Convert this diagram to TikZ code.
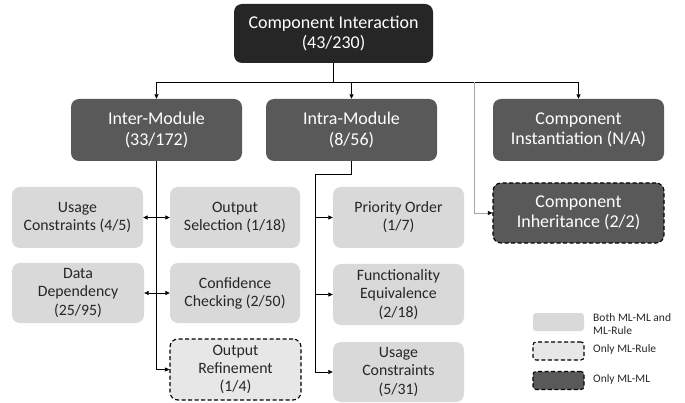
\documentclass[tikz,border=0pt]{standalone}
\usepackage{fontspec}
\setmainfont{Carlito}
\usetikzlibrary{arrows.meta}
\definecolor{topc}{HTML}{262626}
\definecolor{midc}{HTML}{595959}
\definecolor{lightc}{HTML}{D9D9D9}
\definecolor{paleC}{HTML}{E7E7E7}
\definecolor{txtc}{HTML}{262626}
\tikzset{
  box/.style={rectangle, rounded corners=8pt, align=center, inner sep=2pt},
  topbox/.style={box, fill=topc, text=white, font=\fontsize{18}{20.5}\selectfont},
  midbox/.style={box, fill=midc, text=white, font=\fontsize{18}{20.5}\selectfont},
  leafbox/.style={box, fill=lightc, text=txtc, font=\fontsize{15.8}{18.2}\selectfont},
  dashbox/.style={dash pattern=on 4pt off 2.5pt, draw=black, line width=1.1pt},
  conn/.style={draw=black, line width=0.7pt},
  arr/.style={-{Triangle[length=4.5pt,width=4pt]}},
  darr/.style={{Triangle[length=4.5pt,width=4pt]}-{Triangle[length=4.5pt,width=4pt]}},
  legtxt/.style={anchor=west, align=left, text=txtc, font=\fontsize{11.5}{12.2}\selectfont, inner sep=0pt}
}
\begin{document}
\begin{tikzpicture}[x=1pt,y=-1pt]
\useasboundingbox (0,0) rectangle (685,403);
% top
\node[topbox, minimum width=199pt, minimum height=59pt] (top) at (333.5,33.5) {Component Interaction\\(43/230)};
% middle
\node[midbox, minimum width=171pt, minimum height=62pt] (inter) at (156.5,130) {Inter-Module\\(33/172)};
\node[midbox, minimum width=171pt, minimum height=62pt] (intra) at (351.5,130) {Intra-Module\\(8/56)};
\node[midbox, minimum width=171pt, minimum height=62pt] (inst) at (578.5,130) {Component\\Instantiation (N/A)};
\node[midbox, dashbox, minimum width=171pt, minimum height=60pt] (inh) at (578.5,213) {Component\\Inheritance (2/2)};
% leaves
\node[leafbox, minimum width=131pt, minimum height=61pt] (uca) at (77.5,217.5) {Usage\\Constraints (4/5)};
\node[leafbox, minimum width=132pt, minimum height=60pt] (dd) at (78,293) {Data\\Dependency\\(25/95)};
\node[leafbox, minimum width=130pt, minimum height=61pt] (os) at (235,217.5) {Output\\Selection (1/18)};
\node[leafbox, minimum width=130pt, minimum height=60pt] (cc) at (235,293) {Confidence\\Checking (2/50)};
\node[leafbox, fill=paleC, dashbox, minimum width=131pt, minimum height=61pt] (orf) at (235.5,369.5) {Output\\Refinement\\(1/4)};
\node[leafbox, minimum width=131pt, minimum height=61pt] (po) at (398.5,217.5) {Priority Order\\(1/7)};
\node[leafbox, minimum width=131pt, minimum height=61pt] (fe) at (398.5,294.5) {Functionality\\Equivalence\\(2/18)};
\node[leafbox, minimum width=131pt, minimum height=60pt] (ucb) at (398.5,372) {Usage\\Constraints\\(5/31)};
% connectors from top
\coordinate (hb) at (333.5,82);
\draw[conn] (top.south) -- (hb);
\draw[conn, arr] (hb) -| (inter.north);
\draw[conn, arr] (hb) -| (inst.north);
\draw[conn, arr] (intra.north |- hb) -- (intra.north);
% gray line to inheritance
\coordinate (gl) at (474,82);
\draw[draw=gray!70, line width=0.6pt, -{Triangle[length=4.5pt,width=4pt,color=black]}] (gl) |- (inh.west);
% inter-module spine
\draw[draw=black, line width=1.2pt] (inter.south) -- (inter.south |- orf.west);
\draw[conn, arr] (inter.south |- orf.west) -- (orf.west);
\draw[conn, darr] (uca.east) -- (os.west);
\draw[conn, darr] (dd.east) -- (cc.west);
% intra-module spine
\coordinate (ib) at (315,174);
\draw[conn] (intra.south) |- (ib);
\draw[conn, arr] (ib) |- (ucb.west);
\draw[conn, arr] (ib |- po.west) -- (po.west);
\draw[conn, arr] (ib |- fe.west) -- (fe.west);
% legend
\node[box, rounded corners=3pt, fill=lightc, minimum width=51pt, minimum height=18pt] (l1) at (558.5,322) {};
\node[box, rounded corners=3pt, fill=paleC, dashbox, minimum width=51pt, minimum height=18pt] (l2) at (558.5,351) {};
\node[box, rounded corners=3pt, fill=midc, dashbox, minimum width=51pt, minimum height=18pt] (l3) at (558.5,380.5) {};
\node[legtxt] (t1) at (593,324) {Both ML-ML and\\ML-Rule};
\node[legtxt] (t2) at (593,349.5) {Only ML-Rule};
\node[legtxt] (t3) at (593,379.5) {Only ML-ML};
\end{tikzpicture}
\end{document}
